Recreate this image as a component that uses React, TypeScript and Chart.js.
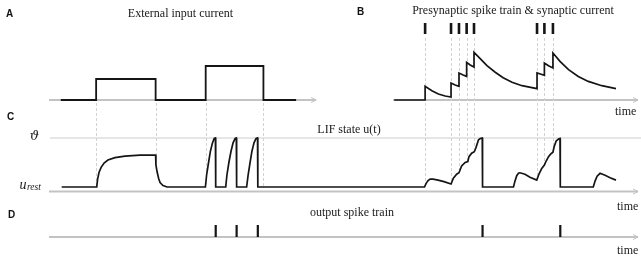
import React, { useEffect, useRef } from "react";
import { Chart, registerables } from "chart.js";

Chart.register(...registerables);

// ---- Data (shared time axis, ms) ----
const inputTimes = [4.0, 16.0, 16.0, 36.2, 36.2, 53.2, 53.2, 72.8, 72.8, 83.9];
const inputLevels = [0, 0, 2.1, 2.1, 0, 0, 3.4, 3.4, 0, 0];
const inputEdgeTimes = [16.0, 36.2, 53.2, 72.8];

const presynSpikeTimes = [127.7, 136.5, 139.2, 141.8, 144.3, 165.7, 168.2, 171.1];

const synTimes = [
  117.2, 127.7, 127.7, 130.0, 132.2, 134.5, 136.5, 136.5, 137.9, 139.2,
  139.2, 140.6, 141.8, 141.8, 143.0, 144.3, 144.3, 146.4, 148.7, 151.5,
  154.2, 157.2, 160.6, 165.7, 165.7, 167.1, 168.2, 168.2, 169.6, 171.1,
  171.1, 173.5, 176.4, 179.7, 183.1, 187.7, 192.5,
];
const synCurrent = [
  0, 0, 1.36, 0.93, 0.6, 0.4, 0.3, 1.7, 1.5, 1.36,
  2.7, 2.5, 2.36, 3.76, 3.5, 3.3, 4.76, 4.13, 3.43, 2.78,
  2.23, 1.78, 1.43, 1.13, 2.7, 2.58, 2.46, 3.7, 3.42, 3.2,
  4.7, 3.86, 3.03, 2.36, 1.86, 1.43, 1.13,
];

const lifTimes = [
  4.3, 16.2, 16.5, 17.0, 17.7, 18.7, 20.0, 22.4, 25.8, 30.9,
  36.2, 36.3, 36.7, 37.2, 37.7, 38.7, 40.1, 41.8,
  53.1, 53.5, 54.2, 54.8, 55.5, 56.1, 56.5, 56.6,
  60.0, 60.4, 61.1, 61.8, 62.5, 63.2, 63.6, 63.7,
  67.1, 67.6, 68.3, 68.9, 69.6, 70.3, 70.8, 70.9,
  127.5, 128.0, 128.7, 129.4, 130.4, 132.1, 134.1, 136.5,
  137.3, 138.4, 139.2, 140.1, 141.3, 142.2, 142.6, 143.5, 144.4, 144.9, 145.8, 146.4, 147.1, 147.2,
  157.7, 158.2, 158.8, 159.4, 159.9, 161.6, 163.3, 165.6,
  166.4, 167.3, 168.2, 168.8, 169.6, 170.3, 171.1, 171.5, 172.2, 173.0, 173.5, 173.6,
  184.8, 185.4, 186.1, 187.1, 188.8, 190.5, 192.5,
];
const lifState = [
  0, 0, 0.16, 0.3, 0.4, 0.49, 0.55, 0.6, 0.63, 0.65,
  0.65, 0.45, 0.31, 0.18, 0.09, 0.03, 0.0, 0,
  0, 0.24, 0.51, 0.73, 0.9, 0.99, 1.0, 0,
  0, 0.24, 0.51, 0.73, 0.9, 0.99, 1.0, 0,
  0, 0.24, 0.51, 0.73, 0.9, 0.99, 1.0, 0,
  0, 0.07, 0.13, 0.16, 0.16, 0.14, 0.11, 0.06,
  0.18, 0.26, 0.29, 0.43, 0.5, 0.52, 0.62, 0.69, 0.72, 0.79, 0.96, 0.99, 1.0, 0,
  0, 0.12, 0.23, 0.28, 0.29, 0.26, 0.2, 0.14,
  0.27, 0.38, 0.45, 0.53, 0.62, 0.67, 0.71, 0.82, 0.94, 0.98, 0.99, 0,
  0, 0.12, 0.22, 0.28, 0.24, 0.19, 0.14,
];

const outputSpikeTimes = [56.6, 63.7, 70.9, 147.2, 173.6];

const titleA = "External input current";
const titleB = "Presynaptic spike train & synaptic current";
const titleC = "LIF state u(t)";
const titleD = "output spike train";
const timeLabel = "time";

// ---- helpers ----
const pts = (xs: number[], ys: number[]) => xs.map((x, i) => ({ x, y: ys[i] }));
const raster = (ts: number[]) =>
  ts.flatMap((t) => [
    { x: t, y: 0 },
    { x: t, y: 1 },
    { x: t, y: null as any },
  ]);
const lifAt = (t: number) => {
  for (let i = 0; i < lifTimes.length - 1; i++) {
    const t0 = lifTimes[i], t1 = lifTimes[i + 1];
    if (t >= t0 && t <= t1) {
      if (t1 === t0) return lifState[i];
      return lifState[i] + ((lifState[i + 1] - lifState[i]) * (t - t0)) / (t1 - t0);
    }
  }
  return 0;
};

const SERIF = "'Liberation Serif', 'Times New Roman', serif";
const MATH = "'DejaVu Serif', 'Liberation Serif', serif";
const SANS = "'Liberation Sans', Arial, sans-serif";

const decor = {
  id: "decor",
  beforeDatasetsDraw(chart: any) {
    const { ctx } = chart;
    const x = chart.scales.x, yTop = chart.scales.yTop, yC = chart.scales.yC, yD = chart.scales.yD, yR = chart.scales.yR;
    ctx.save();
    // threshold line
    ctx.strokeStyle = "#e6e6e6";
    ctx.lineWidth = 2;
    ctx.beginPath();
    ctx.moveTo(x.getPixelForValue(0.3), yC.getPixelForValue(1));
    ctx.lineTo(chart.width, yC.getPixelForValue(1));
    ctx.stroke();

    const axis = (t0: number, t1: number, py: number) => {
      const a = x.getPixelForValue(t0), b = x.getPixelForValue(t1);
      ctx.strokeStyle = "#c3c3c3";
      ctx.lineWidth = 1.8;
      ctx.beginPath();
      ctx.moveTo(a, py);
      ctx.lineTo(b, py);
      ctx.stroke();
      ctx.lineWidth = 1;
      ctx.beginPath();
      ctx.moveTo(b - 5, py - 2.5);
      ctx.lineTo(b, py);
      ctx.lineTo(b - 5, py + 2.5);
      ctx.stroke();
    };
    axis(0, 90.7, yTop.getPixelForValue(0));
    axis(116.8, 200, yTop.getPixelForValue(0));
    axis(0, 200, yC.getPixelForValue(-0.092));
    axis(0, 200, yD.getPixelForValue(0));

    // dashed guides
    ctx.strokeStyle = "#d2d2d2";
    ctx.lineWidth = 1;
    ctx.setLineDash([3, 2]);
    const guide = (t: number, fromPy: number) => {
      const px = Math.round(x.getPixelForValue(t)) + 0.5;
      ctx.beginPath();
      ctx.moveTo(px, fromPy);
      ctx.lineTo(px, yC.getPixelForValue(lifAt(t)));
      ctx.stroke();
    };
    inputEdgeTimes.forEach((t) => guide(t, yTop.getPixelForValue(0) + 3));
    presynSpikeTimes.forEach((t) => guide(t, yR.getPixelForValue(0) + 4));
    ctx.restore();
  },
  afterDraw(chart: any) {
    const { ctx } = chart;
    const yC = chart.scales.yC;
    ctx.save();
    ctx.fillStyle = "#111";
    ctx.textBaseline = "middle";
    ctx.textAlign = "left";
    ctx.font = `bold 10px ${SANS}`;
    ctx.fillText("A", 6, 14);
    ctx.fillText("B", 357, 12);
    ctx.fillText("C", 7, 117.5);
    ctx.fillText("D", 8, 215);

    ctx.fillStyle = "#1a1a1a";
    ctx.font = `12px ${SERIF}`;
    ctx.textAlign = "center";
    ctx.fillText(titleA, 180.5, 13.5);
    ctx.fillText(titleB, 513, 10.5);
    ctx.fillText(titleC, 349, 130);
    ctx.fillText(titleD, 352, 212.5);
    ctx.textAlign = "left";
    ctx.fillText(timeLabel, 615, 112);
    ctx.fillText(timeLabel, 617, 206.5);
    ctx.fillText(timeLabel, 617, 250.5);

    // y labels for LIF state
    ctx.font = `italic 13px ${MATH}`;
    ctx.textAlign = "center";
    ctx.fillText("\u03D1", 34.5, yC.getPixelForValue(1) - 1);
    ctx.textAlign = "left";
    const ur = yC.getPixelForValue(0) - 2;
    ctx.font = `italic 14px ${SERIF}`;
    ctx.fillText("u", 19.5, ur);
    ctx.font = `italic 9.5px ${SERIF}`;
    ctx.fillText("rest", 27, ur + 3);
    ctx.restore();
  },
};

export default function App() {
  const ref = useRef<HTMLCanvasElement | null>(null);
  useEffect(() => {
    if (!ref.current) return;
    const line = {
      borderColor: "#151515",
      borderWidth: 1.7,
      pointRadius: 0,
      tension: 0,
      fill: false,
      spanGaps: false,
    };
    const chart = new Chart(ref.current, {
      type: "line",
      data: {
        datasets: [
          { ...line, label: "input", data: pts(inputTimes, inputLevels), yAxisID: "yTop", borderWidth: 1.8 },
          { ...line, label: "syn", data: pts(synTimes, synCurrent), yAxisID: "yTop" },
          { ...line, label: "lif", data: pts(lifTimes, lifState), yAxisID: "yC" },
          { ...line, label: "presyn", data: raster(presynSpikeTimes), yAxisID: "yR", borderWidth: 2.6, borderCapStyle: "butt" },
          { ...line, label: "out", data: raster(outputSpikeTimes), yAxisID: "yD", borderWidth: 2.2, borderCapStyle: "butt" },
        ] as any,
      },
      options: {
        responsive: false,
        animation: false,
        devicePixelRatio: 1,
        layout: { padding: 0 },
        plugins: { legend: { display: false }, tooltip: { enabled: false } },
        scales: {
          x: { type: "linear", display: false, min: -16.64, max: 201.0 },
          yTop: { type: "linear", display: false, min: -15.8, max: 10 },
          yR: { type: "linear", display: false, min: -20.364, max: 3.091 },
          yC: { type: "linear", display: false, min: -1.449, max: 3.816 },
          yD: { type: "linear", display: false, min: -1.75, max: 19.75 },
        },
      } as any,
      plugins: [decor],
    });
    return () => chart.destroy();
  }, []);
  return (
    <div style={{ position: "fixed", left: 0, top: 0, width: 641, height: 258, background: "#fff" }}>
      <canvas ref={ref} width={641} height={258} style={{ display: "block" }} />
    </div>
  );
}
